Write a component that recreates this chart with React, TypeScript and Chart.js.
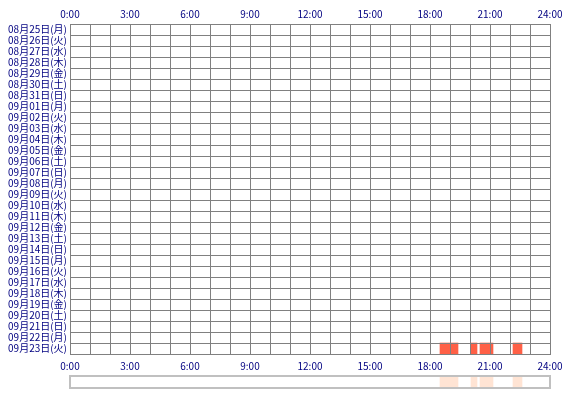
import { useEffect, useRef } from 'react';
import { Chart, registerables } from 'chart.js';

Chart.register(...registerables);

// one row per day, newest at the bottom
const DAYS = [
  '08月25日(月)', '08月26日(火)', '08月27日(水)', '08月28日(木)', '08月29日(金)',
  '08月30日(土)', '08月31日(日)', '09月01日(月)', '09月02日(火)', '09月03日(水)',
  '09月04日(木)', '09月05日(金)', '09月06日(土)', '09月07日(日)', '09月08日(月)',
  '09月09日(火)', '09月10日(水)', '09月11日(木)', '09月12日(金)', '09月13日(土)',
  '09月14日(日)', '09月15日(月)', '09月16日(火)', '09月17日(水)', '09月18日(木)',
  '09月19日(金)', '09月20日(土)', '09月21日(日)', '09月22日(月)', '09月23日(火)',
];

// activity sessions (hours of day)
const SESSION_DAYS = ['09月23日(火)', '09月23日(火)', '09月23日(火)', '09月23日(火)'];
const SESSION_START = [18.5, 20.05, 20.5, 22.15];
const SESSION_END = [19.4, 20.35, 21.15, 22.6];

const HOUR_TICKS = ['0:00', '3:00', '6:00', '9:00', '12:00', '15:00', '18:00', '21:00', '24:00'];

const GRID = '#808080';
const TEXT = '#000080';
const FONT = { family: "'Noto Sans CJK JP', sans-serif", size: 10 };

const hourLabel = (v: number | string) => {
  const n = Number(v);
  return n % 3 === 0 ? HOUR_TICKS[n / 3] : '';
};

const frame = {
  id: 'frame',
  afterDraw(chart: Chart) {
    const { ctx, chartArea: a } = chart;
    ctx.save();
    ctx.strokeStyle = '#c0c0c0';
    ctx.lineWidth = 2;
    ctx.strokeRect(a.left, a.top, a.right - a.left, a.bottom - a.top);
    ctx.restore();
  },
};

export default function App() {
  const gridRef = useRef<HTMLCanvasElement>(null);
  const stripRef = useRef<HTMLCanvasElement>(null);

  useEffect(() => {
    if (!gridRef.current || !stripRef.current) return;

    const sessions = SESSION_START.map((s, i) => ({ x: [s, SESSION_END[i]], y: SESSION_DAYS[i] }));

    const chart = new Chart(gridRef.current, {
      type: 'bar',
      data: {
        labels: DAYS,
        datasets: [{
          data: sessions as any,
          backgroundColor: '#ff6046',
          barPercentage: 1,
          categoryPercentage: 1,
        }],
      },
      options: {
        indexAxis: 'y',
        animation: false,
        responsive: true,
        maintainAspectRatio: false,
        devicePixelRatio: 1,
        layout: { padding: { right: 20 } },
        plugins: { legend: { display: false }, tooltip: { enabled: false } },
        scales: {
          x: {
            type: 'linear',
            position: 'bottom',
            min: 0,
            max: 24,
            grid: { color: GRID, drawTicks: false, z: 1 },
            border: { color: GRID, z: 1 },
            ticks: { stepSize: 1, autoSkip: false, maxRotation: 0, padding: 6, color: TEXT, font: FONT, callback: hourLabel },
            afterFit: (s: any) => { s.height = 18; },
          },
          x2: {
            type: 'linear',
            position: 'top',
            min: 0,
            max: 24,
            grid: { display: false, drawTicks: false },
            border: { color: GRID },
            ticks: { stepSize: 1, autoSkip: false, maxRotation: 0, padding: 4, color: TEXT, font: FONT, callback: hourLabel },
            afterFit: (s: any) => { s.height = 24; },
          },
          y: {
            grid: { color: GRID, drawTicks: false, z: 1 },
            border: { color: GRID, z: 1 },
            ticks: { autoSkip: false, padding: 3, color: TEXT, font: FONT },
            afterFit: (s: any) => { s.width = 70; },
          },
        },
      },
    });

    // summary strip of all days
    const strip = new Chart(stripRef.current, {
      type: 'bar',
      data: {
        labels: ['all'],
        datasets: [{
          data: SESSION_START.map((s, i) => ({ x: [s, SESSION_END[i]], y: 'all' })) as any,
          backgroundColor: '#ffe4d4',
          barPercentage: 1,
          categoryPercentage: 1,
        }],
      },
      options: {
        indexAxis: 'y',
        animation: false,
        responsive: true,
        maintainAspectRatio: false,
        devicePixelRatio: 1,
        layout: { padding: { left: 70, right: 20, top: 4, bottom: 12 } },
        plugins: { legend: { display: false }, tooltip: { enabled: false } },
        scales: {
          x: { type: 'linear', min: 0, max: 24, display: false },
          y: { display: false },
        },
      },
      plugins: [frame],
    });

    return () => {
      chart.destroy();
      strip.destroy();
    };
  }, []);

  return (
    <div style={{ position: 'absolute', left: 0, top: 0, width: 570, height: 400, background: '#fff' }}>
      <div style={{ position: 'absolute', left: 0, top: 0, width: 570, height: 372 }}>
        <canvas ref={gridRef} />
      </div>
      <div style={{ position: 'absolute', left: 0, top: 372, width: 570, height: 28 }}>
        <canvas ref={stripRef} />
      </div>
    </div>
  );
}
